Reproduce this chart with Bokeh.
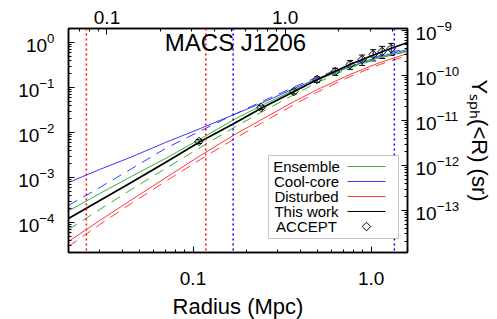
import numpy as np
from bokeh.plotting import figure
from bokeh.models import (Range1d, LogScale, LogAxis, FixedTicker, Span, Label,
                          BoxAnnotation, Whisker, TeeHead, ColumnDataSource,
                          PrintfTickFormatter)
from bokeh.embed import file_html
from bokeh.resources import INLINE

# ---------------- data ----------------
radius = [0.02, 0.03, 0.045, 0.07, 0.11, 0.17, 0.24, 0.37, 0.5, 0.76, 1.12, 1.6]

this_work = [1.23e-4, 3.08e-4, 7.74e-4, 2.16e-3, 6.31e-3, 0.0158, 0.0341, 0.0815, 0.151, 0.325, 0.600, 1.0]
ensemble = [1.80e-4, 4.41e-4, 1.05e-3, 2.64e-3, 7.17e-3, 0.01945, 0.0388, 0.0880, 0.147, 0.286, 0.464, 0.647]
ensemble_dash = [6.99e-5, 1.95e-4, 5.41e-4, 1.58e-3, 4.64e-3, 0.01292, 0.0278, 0.0699, 0.129, 0.271, 0.453, 0.631]
coolcore = [7.74e-4, 1.51e-3, 2.85e-3, 5.99e-3, 0.01227, 0.0251, 0.0441, 0.0950, 0.158, 0.293, 0.489, 0.699]
coolcore_dash = [2.39e-4, 6.00e-4, 1.55e-3, 4.41e-3, 0.0108, 0.0251, 0.0476, 0.1026, 0.171, 0.316, 0.514, 0.755]
disturbed = [3.78e-5, 1.11e-4, 3.16e-4, 9.75e-4, 3.08e-3, 8.80e-3, 0.01897, 0.0489, 0.0903, 0.1945, 0.359, 0.570]
disturbed_dash = [2.93e-5, 9.03e-5, 2.64e-4, 8.15e-4, 2.51e-3, 7.17e-3, 0.0158, 0.0419, 0.0794, 0.1755, 0.325, 0.514]

accept_r = [0.108, 0.241, 0.369, 0.497, 0.628, 0.762, 0.890, 1.026, 1.153, 1.296]
accept_y = [6.31e-3, 0.0360, 0.0815, 0.151, 0.227, 0.325, 0.419, 0.541, 0.631, 0.736]
accept_err = [0.00063, 0.0036, 0.0098, 0.021, 0.041, 0.072, 0.109, 0.151, 0.189, 0.221]

red_dotted_r = [0.0252, 0.118]
blue_dotted_r = [0.168, 1.35]

x_lim = (0.02, 1.6)
y_lim = (2.15e-5, 2.05)
arcmin_per_mpc = 3.04
sr_factor = 5.41e-10

x_major = [0.1, 1.0]
top_major = [0.1, 1.0]
y_major = [1e-4, 1e-3, 1e-2, 1e-1, 1.0]
yr_major = [1e-13, 1e-12, 1e-11, 1e-10, 1e-9]

legend_labels = ["Ensemble", "Cool-core", "Disturbed", "This work", "ACCEPT"]
title_text = "MACS J1206"

# ---------------- styling ----------------
FONT = "Liberation Sans"
GREEN = "#33b233"
BLUE = "#3a3aff"
RED = "#ff3a3a"

p = figure(x_axis_type="log", y_axis_type="log",
           x_range=Range1d(*x_lim), y_range=Range1d(*y_lim),
           frame_width=339, frame_height=224,
           min_border_left=68, min_border_right=10, min_border_top=28, min_border_bottom=10,
           output_backend="svg", toolbar_location=None)
p.xgrid.visible = False
p.ygrid.visible = False
p.outline_line_color = "black"
p.outline_line_width = 1.5
p.background_fill_color = "white"
p.border_fill_color = "white"

def minors(lo_exp, hi_exp):
    out = []
    for e in range(lo_exp, hi_exp + 1):
        for m in range(2, 10):
            out.append(m * 10.0 ** e)
    return out

bottom_axis = p.below[0]
left_axis = p.left[0]

p.extra_x_ranges = {"top": Range1d(x_lim[0] * arcmin_per_mpc, x_lim[1] * arcmin_per_mpc)}
p.extra_x_scales = {"top": LogScale()}
p.extra_y_ranges = {"right": Range1d(y_lim[0] * sr_factor, y_lim[1] * sr_factor)}
p.extra_y_scales = {"right": LogScale()}

top_axis = LogAxis(x_range_name="top")
right_axis = LogAxis(y_range_name="right")
p.add_layout(top_axis, "above")
p.add_layout(right_axis, "right")

bottom_axis.ticker = FixedTicker(ticks=x_major, minor_ticks=minors(-2, 0))
bottom_axis.formatter = PrintfTickFormatter(format="%.1f")
top_axis.ticker = FixedTicker(ticks=top_major, minor_ticks=minors(-2, 0))
top_axis.formatter = PrintfTickFormatter(format="%.1f")
left_axis.ticker = FixedTicker(ticks=y_major, minor_ticks=minors(-5, 0))
right_axis.ticker = FixedTicker(ticks=yr_major, minor_ticks=minors(-14, -9))

for ax in (bottom_axis, top_axis, left_axis, right_axis):
    ax.major_tick_in = 6
    ax.major_tick_out = 0
    ax.minor_tick_in = 3
    ax.minor_tick_out = 0
    ax.axis_line_width = 1.5
    ax.axis_line_color = "black"
    ax.major_tick_line_color = "black"
    ax.minor_tick_line_color = "black"
    ax.major_label_text_font = FONT
    ax.major_label_text_font_size = "19px"
    ax.major_label_text_color = "black"
    ax.axis_label_text_font = FONT
    ax.axis_label_text_font_style = "normal"
    ax.axis_label_text_color = "black"

bottom_axis.axis_label = "Radius (Mpc)"
bottom_axis.axis_label_text_font_size = "22px"
bottom_axis.major_label_standoff = 19
bottom_axis.axis_label_standoff = 6
top_axis.major_label_standoff = 5
left_axis.major_label_standoff = 14
right_axis.major_label_standoff = 8
right_axis.axis_label = "Y\u209b\u209a\u2095(<R) (sr)"
right_axis.axis_label_text_font_size = "22px"
right_axis.axis_label_standoff = 5

# ---------------- vertical dotted lines ----------------
for r in red_dotted_r:
    p.add_layout(Span(location=r, dimension="height", line_color="#ff0000",
                      line_dash="2 3", line_width=1.5))
for r in blue_dotted_r:
    p.add_layout(Span(location=r, dimension="height", line_color="#0000ff",
                      line_dash="2 3", line_width=1.5))

# ---------------- curves ----------------
p.line(radius, coolcore_dash, line_color=BLUE, line_width=1, line_dash="10 7")
p.line(radius, ensemble_dash, line_color=GREEN, line_width=1, line_dash="10 7")
p.line(radius, disturbed_dash, line_color=RED, line_width=1, line_dash="10 7")
p.line(radius, coolcore, line_color=BLUE, line_width=1)
p.line(radius, ensemble, line_color=GREEN, line_width=1)
p.line(radius, disturbed, line_color=RED, line_width=1)
p.line(radius, this_work, line_color="black", line_width=1.8)

# ---------------- ACCEPT points ----------------
acc = ColumnDataSource(dict(r=accept_r, y=accept_y,
                            up=[y + e for y, e in zip(accept_y, accept_err)],
                            lo=[y - e for y, e in zip(accept_y, accept_err)]))
p.add_layout(Whisker(source=acc, base="r", upper="up", lower="lo", dimension="height",
                     line_color="black", line_width=1,
                     upper_head=TeeHead(size=6, line_color="black", line_width=1),
                     lower_head=TeeHead(size=6, line_color="black", line_width=1)))
p.scatter("r", "y", source=acc, marker="square", angle=np.pi / 4, size=6,
          fill_color=None, line_color="black", line_width=1)

# ---------------- layout helpers (page px of frame -> data) ----------------
FL, FR, FT, FB = 68, 407, 28, 252
def px_x(px):
    a, b = np.log10(x_lim[0]), np.log10(x_lim[1])
    return 10 ** (a + (px - FL) / (FR - FL) * (b - a))
def px_y(py):
    a, b = np.log10(y_lim[0]), np.log10(y_lim[1])
    return 10 ** (a + (FB - py) / (FB - FT) * (b - a))

# title inside frame
p.add_layout(Label(x=px_x(235), y=px_y(42), text=title_text, text_font=FONT,
                   text_font_size="24px", text_align="center", text_baseline="middle",
                   text_color="black"))

# legend
p.add_layout(BoxAnnotation(left=px_x(268), right=px_x(398), bottom=px_y(238), top=px_y(155),
                           fill_color="white", fill_alpha=1.0, line_color="#444444",
                           line_width=1, level="annotation"))
rows = [166, 181, 196, 211, 226]
colors = [GREEN, BLUE, RED, "black", None]
for lab, py, col in zip(legend_labels, rows, colors):
    p.add_layout(Label(x=px_x(306), y=px_y(py), text=lab, text_font=FONT,
                       text_font_size="15px", text_align="center", text_baseline="middle",
                       text_color="black"))
    if col is not None:
        p.segment(x0=[px_x(347)], y0=[px_y(py)], x1=[px_x(385)], y1=[px_y(py)],
                  line_color=col, line_width=1, level="overlay")
    else:
        p.scatter(x=[px_x(366)], y=[px_y(py)], marker="square", angle=np.pi / 4, size=6,
                  fill_color=None, line_color="black", line_width=1, level="overlay")

open("out.html", "w").write(file_html(p, INLINE))
